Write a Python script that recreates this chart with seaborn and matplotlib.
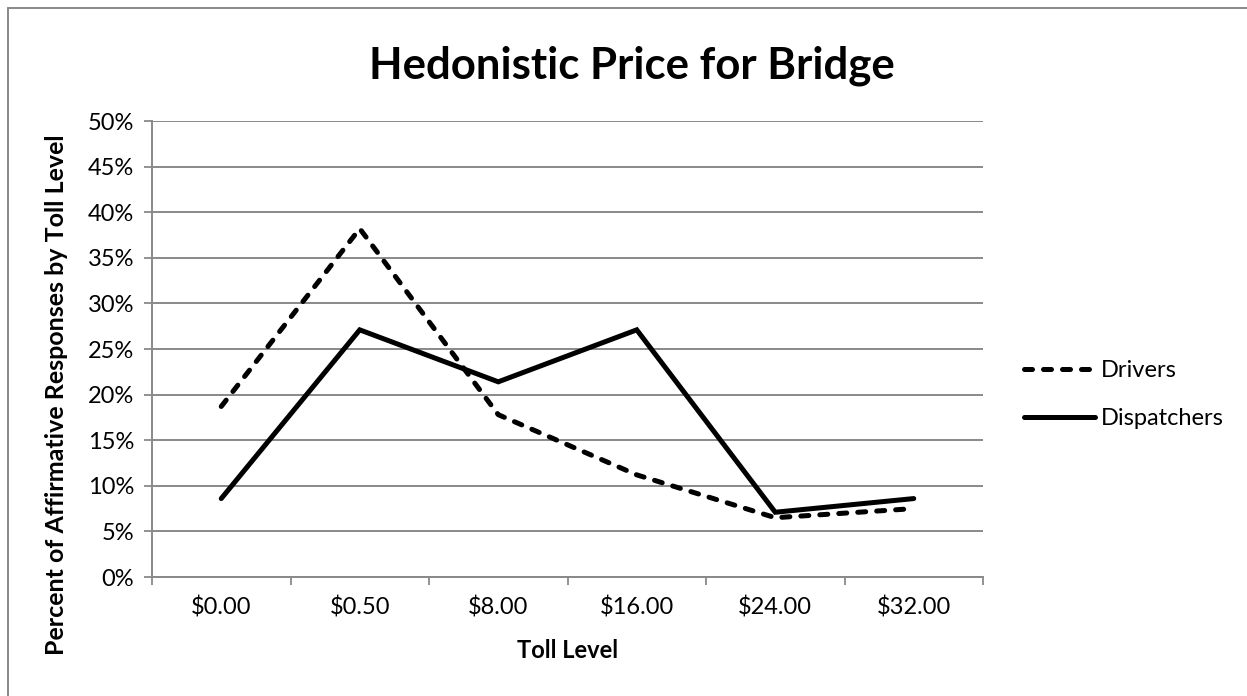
import seaborn as sns
import matplotlib.pyplot as plt
import pandas as pd
from matplotlib.lines import Line2D
from matplotlib.ticker import FixedLocator, FuncFormatter

toll_levels = ["$0.00", "$0.50", "$8.00", "$16.00", "$24.00", "$32.00"]
drivers = [18.7, 38.2, 17.8, 11.2, 6.5, 7.5]
dispatchers = [8.6, 27.1, 21.4, 27.1, 7.1, 8.6]
series_names = ["Drivers", "Dispatchers"]

W, H = 1247, 696
GRID = "#898989"
FONT = "Lato"

df = pd.DataFrame({
    "pos": list(range(len(toll_levels))) * 2,
    "value": drivers + dispatchers,
    "series": [series_names[0]] * len(drivers) + [series_names[1]] * len(dispatchers),
})

sns.set_theme(style="white")
plt.rcParams["font.family"] = [FONT, "DejaVu Sans"]
plt.rcParams["text.color"] = "black"
plt.rcParams["xtick.labelcolor"] = "black"
plt.rcParams["ytick.labelcolor"] = "black"

fig = plt.figure(figsize=(W / 100, H / 100), dpi=100)
ax = fig.add_axes([152 / W, 1 - 577 / H, 831 / W, 456 / H])

sns.lineplot(data=df, x="pos", y="value", hue="series", style="series",
             palette={"Drivers": "black", "Dispatchers": "black"},
             dashes={"Drivers": (1.6, 2.2), "Dispatchers": ""},
             linewidth=3.6, legend=False, ax=ax)
for ln in ax.get_lines():
    ln.set_dash_capstyle("round")
    ln.set_solid_capstyle("round")
    ln.set_solid_joinstyle("miter")

ax.set_xlim(-0.5, len(toll_levels) - 0.5)
ax.set_ylim(0, 50)
ax.set_xticks(range(len(toll_levels)))
ax.set_xticklabels(toll_levels)
ax.xaxis.set_minor_locator(FixedLocator([i - 0.5 for i in range(len(toll_levels) + 1)]))
ax.set_yticks(range(0, 51, 5))
ax.yaxis.set_major_formatter(FuncFormatter(lambda v, p: f"{v:.0f}%"))
ax.tick_params(axis="x", which="major", length=0, pad=14, labelsize=17, labelcolor="black")
ax.tick_params(axis="x", which="minor", length=6, width=1.3, color=GRID, direction="out", bottom=True)
ax.tick_params(axis="y", length=6, width=1.3, color=GRID, direction="out", left=True, pad=7,
               labelsize=17, labelcolor="black")
ax.grid(axis="y", color=GRID, linewidth=1.4)
ax.set_axisbelow(True)
for side in ["top", "right"]:
    ax.spines[side].set_visible(False)
for side in ["left", "bottom"]:
    ax.spines[side].set_color(GRID)
    ax.spines[side].set_linewidth(1.4)
ax.set_xlabel("")
ax.set_ylabel("")

fig.text(631.5 / W, 1 - 79 / H, "Hedonistic Price for Bridge", ha="center", va="baseline",
         fontsize=31.5, fontweight="bold", color="black")
fig.text(57 / W, 1 - 395 / H, "Percent of Affirmative Responses by Toll Level", rotation=90,
         ha="center", va="center", fontsize=18, fontweight="bold", color="black")
fig.text(568 / W, 1 - 651 / H, "Toll Level", ha="center", va="center", fontsize=17,
         fontweight="bold", color="black")

handles = [Line2D([], [], color="black", lw=3.6, dashes=(1.6, 2.2), dash_capstyle="round"),
           Line2D([], [], color="black", lw=3.6, solid_capstyle="round")]
fig.legend(handles, series_names, loc="upper left", bbox_to_anchor=(1024 / W, 1 - 360 / H),
           frameon=False, fontsize=17, handlelength=3.0, handletextpad=0.25, labelspacing=1.15,
           borderpad=0, borderaxespad=0, labelcolor="black")

# chart border (top and left edges visible)
fig.add_artist(Line2D([8 / W, 1], [1 - 8 / H, 1 - 8 / H], color=GRID, lw=1.4, transform=fig.transFigure))
fig.add_artist(Line2D([8 / W, 8 / W], [0, 1 - 8 / H], color=GRID, lw=1.4, transform=fig.transFigure))

fig.savefig("out.png", dpi=100)
